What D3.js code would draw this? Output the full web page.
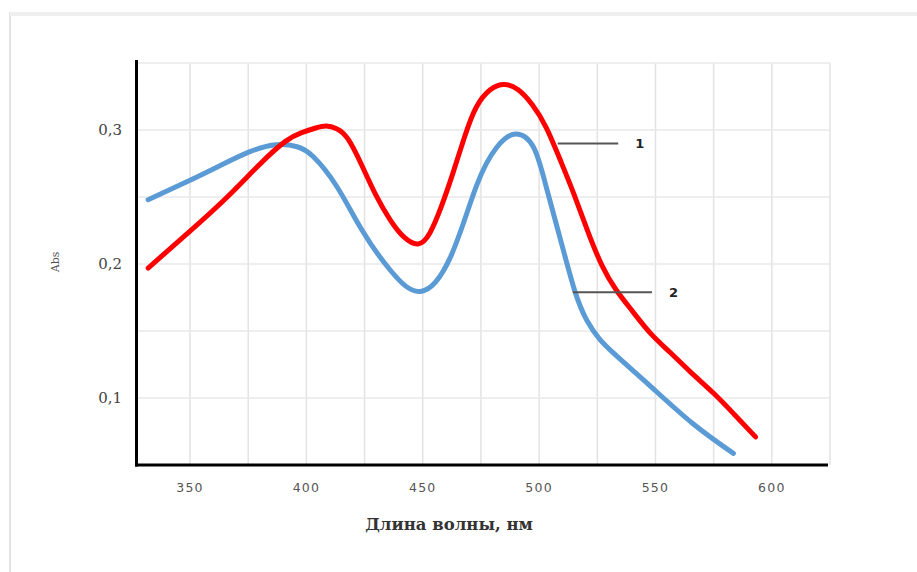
<!DOCTYPE html>
<html>
<head>
<meta charset="utf-8">
<script src="https://cdn.jsdelivr.net/npm/d3@7"></script>
<style>
  body { margin: 0; background: #fff; }
  svg { display: block; }
</style>
</head>
<body>
<div id="chart"></div>
<script>
// ---- data ----
var waveRed = [332, 350, 366, 380, 391, 398, 404, 408.5, 413, 418, 424, 430, 436, 442, 448, 453, 458, 463, 468, 473, 479, 485, 491, 497, 503, 509, 515, 521, 527, 533, 540, 548, 556, 565, 575, 584, 593];
var absRed  = [0.197, 0.2245, 0.250, 0.2745, 0.2915, 0.298, 0.3015, 0.303, 0.301, 0.293, 0.273, 0.251, 0.233, 0.220, 0.215, 0.223, 0.243, 0.268, 0.295, 0.317, 0.330, 0.334, 0.330, 0.319, 0.302, 0.278, 0.252, 0.224, 0.199, 0.181, 0.165, 0.148, 0.1345, 0.1195, 0.1035, 0.0875, 0.071];

var waveBlue = [332, 350, 363, 376, 387, 396, 403, 413, 424, 436, 449, 462, 473, 482, 490, 497.5, 503, 510, 515.5, 520.5, 526, 532, 540, 549, 566, 583.5];
var absBlue  = [0.248, 0.2625, 0.2735, 0.284, 0.289, 0.2875, 0.280, 0.258, 0.225, 0.1955, 0.1795, 0.2055, 0.258, 0.2875, 0.297, 0.2875, 0.258, 0.213, 0.179, 0.158, 0.144, 0.1335, 0.121, 0.107, 0.081, 0.0587];

var xTicks = [350, 400, 450, 500, 550, 600];
var xGrid = [350, 375, 400, 425, 450, 475, 500, 525, 550, 575, 600, 625];
var yTicks = [0.1, 0.2, 0.3];
var yGrid = [0.1, 0.15, 0.2, 0.25, 0.3, 0.35];

// callout labels: [label, x from, x to, y]
var callouts = [["1", 508, 534, 0.290], ["2", 514.5, 548.5, 0.179]];

var w = 917, h = 572;

var svg = d3.select("#chart").append("svg")
    .attr("width", w)
    .attr("height", h);

// page frame
svg.append("rect")
    .attr("x", 10).attr("y", 13)
    .attr("width", w + 20).attr("height", h + 20)
    .attr("fill", "none")
    .attr("stroke", "#e2e2e2")
    .attr("stroke-width", 2);
svg.append("rect")
    .attr("x", 10).attr("y", 12)
    .attr("width", w).attr("height", 4)
    .attr("fill", "#efefef");

var x = d3.scaleLinear().domain([327, 625]).range([136.5, 830]);
var y = d3.scaleLinear().domain([0.05, 0.35]).range([465, 63]);

// grid
svg.selectAll(".vgrid")
    .data(xGrid).enter().append("line")
    .attr("x1", function(d) { return x(d); })
    .attr("x2", function(d) { return x(d); })
    .attr("y1", y(0.35)).attr("y2", y(0.05))
    .attr("stroke", "#e3e3e3").attr("stroke-width", 1.5);

svg.selectAll(".hgrid")
    .data(yGrid).enter().append("line")
    .attr("x1", x(327)).attr("x2", x(625))
    .attr("y1", function(d) { return y(d); })
    .attr("y2", function(d) { return y(d); })
    .attr("stroke", "#e8e8e8").attr("stroke-width", 1.5);

// tick labels
svg.selectAll(".xlab")
    .data(xTicks).enter().append("text")
    .attr("x", function(d) { return x(d); })
    .attr("y", 492)
    .attr("text-anchor", "middle")
    .attr("font-family", "DejaVu Sans")
    .attr("font-size", 12.5)
    .attr("letter-spacing", 1.2)
    .attr("fill", "#555")
    .text(function(d) { return d; });

svg.selectAll(".ylab")
    .data(yTicks).enter().append("text")
    .attr("x", 122)
    .attr("y", function(d) { return y(d); })
    .attr("dy", "0.35em")
    .attr("text-anchor", "end")
    .attr("font-family", "DejaVu Serif")
    .attr("font-size", 15)
    .attr("fill", "#444")
    .text(function(d) { return String(d).replace(".", ","); });

// curves
var line = d3.line()
    .x(function(d) { return x(d[0]); })
    .y(function(d) { return y(d[1]); })
    .curve(d3.curveNatural);

svg.append("path")
    .datum(d3.zip(waveBlue, absBlue))
    .attr("d", line)
    .attr("fill", "none")
    .attr("stroke", "#5b9bd5")
    .attr("stroke-width", 5)
    .attr("stroke-linecap", "round");

svg.append("path")
    .datum(d3.zip(waveRed, absRed))
    .attr("d", line)
    .attr("fill", "none")
    .attr("stroke", "#ff0000")
    .attr("stroke-width", 5)
    .attr("stroke-linecap", "round");

// callouts
callouts.forEach(function(c) {
    svg.append("line")
        .attr("x1", x(c[1])).attr("x2", x(c[2]))
        .attr("y1", y(c[3])).attr("y2", y(c[3]))
        .attr("stroke", "#555").attr("stroke-width", 2);
    svg.append("text")
        .attr("x", x(c[2]) + 17)
        .attr("y", y(c[3]))
        .attr("dy", "0.35em")
        .attr("font-family", "DejaVu Sans")
        .attr("font-weight", "bold")
        .attr("font-size", 13)
        .attr("fill", "#222")
        .text(c[0]);
});

// axes lines
svg.append("line")
    .attr("x1", x(327)).attr("x2", x(327))
    .attr("y1", 60).attr("y2", y(0.05) + 1.5)
    .attr("stroke", "#000").attr("stroke-width", 3);
svg.append("line")
    .attr("x1", x(327) - 1.5).attr("x2", x(625) - 2)
    .attr("y1", y(0.05)).attr("y2", y(0.05))
    .attr("stroke", "#000").attr("stroke-width", 3);

// axis titles
svg.append("text")
    .attr("x", 449).attr("y", 530)
    .attr("text-anchor", "middle")
    .attr("font-family", "DejaVu Serif")
    .attr("font-weight", "bold")
    .attr("font-size", 16.5)
    .attr("fill", "#333")
    .text("Длина волны, нм");

svg.append("text")
    .attr("transform", "translate(59,262) rotate(-90)")
    .attr("text-anchor", "middle")
    .attr("font-family", "DejaVu Serif")
    .attr("font-size", 11)
    .attr("fill", "#555")
    .text("Abs");
</script>
</body>
</html>
